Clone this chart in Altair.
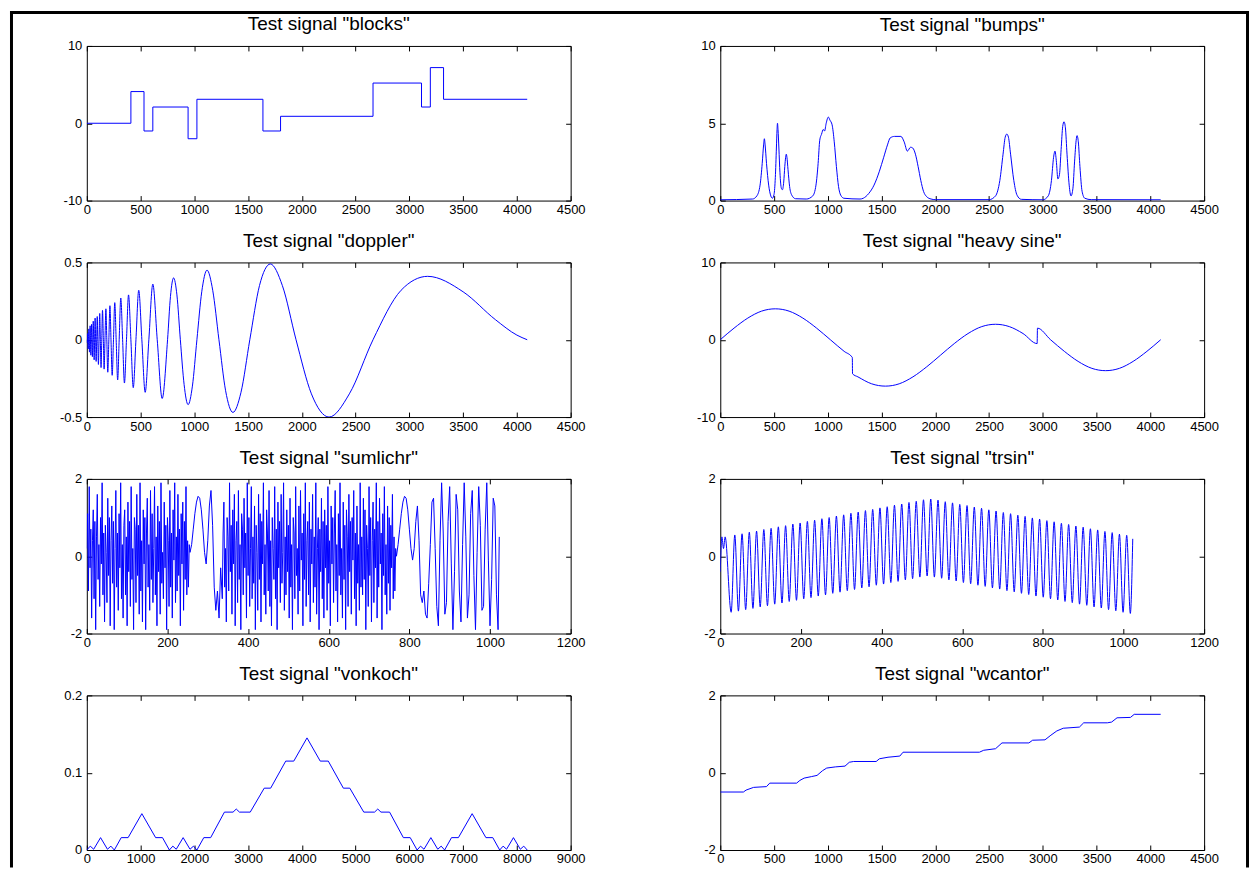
import altair as alt
import pandas as pd

# ---------------- data ----------------
blocks_x = [0, 410, 532, 614, 942, 1024, 1638, 1802, 2662, 3113, 3195, 3318, 4096]
blocks_y = [0, 4.1, -1.0, 2.1, -2.0, 3.1, -1.0, 0.9, 5.2, 2.1, 7.2, 3.1, 3.1]

bumps_pts = [(0, 0.05), (300, 0.1), (340, 0.3), (370, 1.0), (390, 2.4), (403, 3.6), (410, 4.0),
             (417, 3.6), (430, 2.4), (450, 1.0), (470, 0.3), (485, 0.15), (500, 0.4), (512, 1.5),
             (522, 3.4), (528, 4.6), (532, 5.0), (537, 4.6), (545, 3.4), (555, 1.8), (568, 0.8),
             (578, 0.7), (590, 1.2), (600, 2.2), (608, 2.8), (614, 3.0), (620, 2.8), (630, 2.0),
             (645, 0.9), (665, 0.35), (700, 0.12), (800, 0.1), (860, 0.3), (890, 1.0), (910, 2.4),
             (925, 3.9), (942, 4.3), (958, 4.6), (970, 4.5), (985, 5.0), (1005, 5.4), (1020, 5.2),
             (1040, 4.9), (1060, 3.8), (1080, 2.2), (1100, 0.9), (1120, 0.35), (1150, 0.15),
             (1300, 0.1), (1330, 0.15), (1380, 0.45), (1430, 1.0), (1480, 1.9), (1520, 2.8),
             (1555, 3.6), (1580, 4.05), (1620, 4.15), (1680, 4.15), (1710, 3.8), (1740, 3.2),
             (1770, 3.45), (1790, 3.4), (1815, 3.0), (1840, 2.2), (1865, 1.3), (1890, 0.6),
             (1920, 0.25), (1960, 0.1), (2000, 0.06), (2500, 0.06), (2560, 0.3), (2600, 1.3),
             (2630, 3.0), (2650, 4.1), (2665, 4.3), (2680, 4.1), (2700, 3.0), (2730, 1.3),
             (2760, 0.35), (2800, 0.08), (3000, 0.05), (3050, 0.3), (3080, 1.3), (3100, 2.8),
             (3113, 3.2), (3125, 2.6), (3140, 1.4), (3155, 1.7), (3170, 3.3), (3185, 4.8),
             (3197, 5.1), (3210, 4.7), (3225, 3.0), (3245, 1.0), (3262, 0.3), (3280, 0.8),
             (3295, 2.5), (3310, 3.9), (3318, 4.2), (3330, 3.8), (3345, 2.2), (3365, 0.6),
             (3390, 0.15), (3450, 0.06), (4096, 0.05)]

doppler_x = [0, 2.5, 5, 7.6, 10.2, 12.9, 15.8, 18.6, 21.6, 24.6, 27.7, 30.8, 34.1, 37.5, 41, 44.5,
             48.2, 52, 55.9, 59.9, 64, 68.3, 72.7, 77.2, 82, 86.8, 92, 97, 102, 108, 114, 120, 126,
             132.5, 139, 146, 154, 161, 169, 177.5, 186, 195, 205, 215, 225, 236, 248, 260, 273,
             287, 301, 316, 333, 350, 369, 388, 410, 432, 457, 483, 512, 543, 577, 614, 655, 701,
             751, 778, 807, 838, 870, 905, 942, 982, 1024, 1069, 1118, 1171, 1229, 1291, 1359,
             1434, 1516, 1606, 1707, 1819, 1946, 2089, 2253, 2442, 2662, 2923, 3170, 3500, 3800,
             4000, 4096]
doppler_y = [0, -0.02, 0, 0.04, 0, -0.06, 0, 0.07, 0, -0.08, 0, 0.09, 0, -0.10, 0, 0.10, 0, -0.11,
             0, 0.12, 0, -0.13, 0, 0.14, 0, -0.14, 0, 0.15, 0, -0.16, 0, 0.17, 0, -0.18, 0, 0.19,
             0, -0.19, 0, 0.20, 0, -0.21, 0, 0.22, 0, -0.23, 0, 0.24, 0, -0.26, 0, 0.27, 0, -0.28,
             0, 0.29, 0, -0.31, 0, 0.32, 0, -0.34, 0, 0.36, 0, -0.38, 0, 0.28, 0.40, 0.29, 0,
             -0.29, -0.42, -0.30, 0, 0.31, 0.45, 0.32, 0, -0.33, -0.47, -0.34, 0, 0.35, 0.49, 0.35,
             0, -0.35, -0.50, -0.35, 0, 0.32, 0.41, 0.31, 0.13, 0.03, 0]

heavy_x = [0, 128, 256, 384, 512, 640, 768, 896, 1024, 1152, 1228, 1230, 1280, 1408, 1536, 1664,
           1792, 1920, 2048, 2176, 2304, 2432, 2560, 2688, 2816, 2947, 2950, 3072, 3200, 3328,
           3456, 3584, 3712, 3840, 3968, 4096]
heavy_y = [0, 1.5, 2.8, 3.7, 4.0, 3.7, 2.8, 1.5, 0, -1.5, -2.3, -4.4, -4.8, -5.7, -6.0, -5.7, -4.8,
           -3.5, -2.0, -0.5, 0.8, 1.7, 2.0, 1.7, 0.8, -0.5, 1.5, 0, -1.5, -2.8, -3.7, -4.0, -3.7,
           -2.8, -1.5, 0]

# sumlichr: five stretches of samples, (first index, index step, values)
sum_r1 = [0.2, 1.1, -0.9, 1.8, -0.3, 0.7, -1.6, 0.4, 1.2, -1.1, 0.9, -1.9, 0.5, 1.6, -0.6, 0.3,
          -1.3, 1.0, -0.2, 1.9, -1.0, 0.6, -1.7, 0.8, 0.1, -1.2, 1.5, -0.5, 1.0, -1.8, 0.4, 1.3,
          -0.7, 0.9, -1.9, 0.2, 1.7, -0.8, 0.6, -1.4, 1.1, -0.3, 1.9, -1.1, 0.3, -1.6, 0.8, 1.2,
          -1.0, 0.5, -1.8, 1.4, -0.4, 0.9, -1.3, 1.8, -0.6, 0.2, -1.9, 1.0, 0.7, -1.2, 1.6, -0.5,
          0.8, -1.5, 1.9, -0.9, 0.4, -1.7, 1.2, -0.2, 1.0, -1.9, 0.6, 1.5, -0.8, 0.3, -1.4, 1.7,
          -0.6, 1.1, -1.2, 0.2, 1.8, -1.0, 0.5, -1.8, 1.3, -0.4, 0.9, -1.5, 1.9, -0.7, 0.1, -1.1,
          1.4, -0.3, 0.8, -1.9, 1.0, 0.4, -1.3, 1.7, -0.8, 0.6, -1.6, 1.2, -0.1, 1.9, -1.2, 0.5,
          -0.9, 1.6, -0.5, 0.7, -1.8, 1.1, -0.2, 1.4, -1.4, 0.9, -0.6, 1.8, -1.0, 0.4, -0.8, 0.3]
sum_r2 = [0.1, 0.3, 0.7, 1.1, 1.4, 1.55, 1.5, 1.2, 0.7, 0.1, -0.2, 0.4, 1.3, 1.7, 0.8, -0.8,
          -1.4, -0.9, -1.6, -0.3]
sum_r3 = [-1.1, 0.6, 1.4, -0.8, 0.2, -1.7, 1.0, 0.5, -0.9, 1.9, -0.4, 0.8, -1.5, 1.2, -0.2, 1.6,
          -1.8, 0.4, 0.9, -1.2, 1.7, -0.6, 0.3, -1.9, 1.1, 0.7, -1.0, 1.5, -0.3, 0.6, -1.6, 1.9,
          -0.5, 1.0, -1.3, 0.2, 1.8, -1.1, 0.5, -0.7, 1.3, -1.9, 0.8, 0.1, -1.4, 1.6, -0.6, 1.1,
          -1.7, 0.9, -0.2, 1.9, -1.0, 0.3, -1.5, 1.2, 0.6, -0.9, 1.7, -1.3, 0.4, -1.8, 1.0, 0.2,
          -0.6, 1.8, -1.1, 0.7, -1.9, 1.4, -0.3, 0.9, -1.2, 1.6, -0.7, 0.1, 1.9, -1.4, 0.5, -1.0,
          1.2, -0.4, 0.8, -1.6, 1.5, -0.8, 0.3, -1.9, 1.0, 0.6, -1.1, 1.8, -0.5, 0.2, -1.5, 1.3,
          -0.9, 1.7, -0.1, 0.6, -1.8, 1.1, -0.6, 1.9, -1.3, 0.4, 0.9, -1.0, 1.4, -1.7, 0.7, -0.2,
          1.6, -1.2, 0.5, -0.8, 1.9, -1.5, 0.2, 1.0, -1.9, 0.7, -0.4, 1.5, -1.1, 0.9, -1.6, 1.2,
          -0.3, 0.8, -1.4, 1.8, -0.7, 0.4, -1.8, 1.3, -0.2, 1.0, -1.2, 0.6, 1.7, -0.9, 0.3, -1.7,
          1.1, -0.5, 1.9, -1.0, 0.2, -1.6, 1.4, -0.6, 0.8, -1.9, 1.2, 0.5, -1.3, 1.6, -0.4, 0.9,
          -1.5, 1.0, -0.1, 1.7, -1.1, 0.6, -1.8, 1.3, -0.7, 0.3, -1.4, 1.9, -0.8, 0.5, -1.0, 1.5,
          -0.6, 1.2, -1.9, 0.8, 0.2, -1.3, 1.8, -0.5, 1.0, -1.7, 0.4, 1.4, -1.2, 0.7, -0.3, 1.9,
          -1.6, 0.9, -0.8, 1.5, -0.2, 0.6, -1.9, 1.1, -0.5, 1.8, -1.0, 0.3, -1.5, 1.3, -0.7, 1.0,
          -1.4, 0.8, -0.3, 1.6, -1.1, 0.5, -0.9, 0.2]
sum_r4 = [0.0, 0.3, 0.7, 1.1, 1.4, 1.55, 1.5, 1.2, 0.7, 0.2, -0.1, 0.2, 0.9, 1.3, 0.4, -1.0,
          -1.2, -0.9, -1.5, -1.6, -0.7, 0.3, 1.4]
sum_r5 = [1.5, 0.2, -1.3, -1.8, 0.4, 1.9, 0.6, -1.5, -1.2, 0.9, 1.8, -0.2, -1.9, -0.4, 1.6, 1.2,
          -0.9, -1.7, 0.3, 1.9, 0.5, -1.6, -1.0, 1.1, 1.7, -0.5, -1.9, 0.1, 1.8, 0.8, -1.4, -1.3,
          0.7, 1.9, -0.1, -1.8, -0.6, 1.5, 1.3, -1.0, -1.9]
sum_stretches = [(0, 2, sum_r1), (256, 4, sum_r2), (336, 2, sum_r3), (768, 4, sum_r4), (860, 4, sum_r5)]
sum_last = (1023, 0.5)

# trsin: first samples, then alternating trough / peak every 9 samples from 27 to 1017
trsin_head_x = [0, 4, 8, 12]
trsin_head_y = [-0.4, 0.5, 0.2, 0.5]
trsin_step_start, trsin_step = 27, 9
trsin_y = [-1.45, 0.55, -1.42, 0.58, -1.38, 0.62, -1.35, 0.65, -1.31, 0.69, -1.28, 0.72, -1.24,
           0.76, -1.21, 0.79, -1.17, 0.83, -1.14, 0.86, -1.10, 0.90, -1.07, 0.93, -1.03, 0.97,
           -1.00, 1.00, -0.96, 1.04, -0.93, 1.07, -0.89, 1.11, -0.86, 1.14, -0.82, 1.18, -0.79,
           1.21, -0.75, 1.25, -0.72, 1.28, -0.68, 1.32, -0.65, 1.35, -0.61, 1.39, -0.58, 1.42,
           -0.54, 1.46, -0.51, 1.48, -0.54, 1.45, -0.57, 1.41, -0.61, 1.38, -0.64, 1.34, -0.68,
           1.31, -0.71, 1.27, -0.75, 1.24, -0.78, 1.20, -0.82, 1.17, -0.85, 1.13, -0.89, 1.10,
           -0.92, 1.06, -0.96, 1.03, -0.99, 0.99, -1.03, 0.96, -1.06, 0.92, -1.10, 0.89, -1.13,
           0.85, -1.17, 0.82, -1.20, 0.78, -1.24, 0.75, -1.27, 0.71, -1.31, 0.68, -1.34, 0.64,
           -1.38, 0.61, -1.41, 0.57, -1.45, 0.54, -1.48]
trsin_last = (1023, 0.45)

vonkoch_x = [0, 64, 128, 256, 384, 448, 512, 640, 768, 1024, 1280, 1408, 1536, 1600, 1664, 1792,
             1920, 1984, 2048, 2176, 2304, 2560, 2720, 2780, 2840, 3040, 3300, 3420, 3700, 3850,
             4096, 4342, 4492, 4772, 4892, 5152, 5352, 5412, 5472, 5632, 5888, 6016, 6144, 6208,
             6272, 6400, 6528, 6592, 6656, 6784, 6912, 7168, 7424, 7552, 7680, 7744, 7808, 7936,
             8064, 8128, 8192]
vonkoch_y = [0, 0.005, 0.001, 0.016, 0.001, 0.005, 0, 0.016, 0.016, 0.047, 0.016, 0.016, 0, 0.005,
             0.001, 0.016, 0.001, 0.005, 0, 0.016, 0.016, 0.049, 0.049, 0.053, 0.049, 0.049, 0.08,
             0.08, 0.115, 0.115, 0.145, 0.115, 0.115, 0.08, 0.08, 0.049, 0.049, 0.053, 0.049,
             0.049, 0.016, 0.016, 0, 0.005, 0.001, 0.016, 0.001, 0.005, 0, 0.016, 0.016, 0.047,
             0.016, 0.016, 0, 0.005, 0.001, 0.016, 0.001, 0.005, 0]

wcantor_x = [0, 215, 240, 310, 430, 460, 710, 740, 780, 850, 900, 950, 990, 1070, 1160, 1200, 1240,
             1450, 1480, 1560, 1670, 1700, 2410, 2450, 2560, 2620, 2870, 2905, 3020, 3075, 3130,
             3190, 3340, 3380, 3600, 3640, 3690, 3815, 3850, 4096]
wcantor_y = [-0.5, -0.5, -0.45, -0.38, -0.36, -0.27, -0.27, -0.2, -0.14, -0.1, -0.07, 0.05, 0.12,
             0.15, 0.17, 0.27, 0.29, 0.29, 0.36, 0.4, 0.43, 0.53, 0.53, 0.58, 0.62, 0.77, 0.77, 0.84,
             0.85, 0.97, 1.08, 1.15, 1.18, 1.29, 1.29, 1.31, 1.42, 1.43, 1.51, 1.51]

# axis ticks
ticks_4500 = [0, 500, 1000, 1500, 2000, 2500, 3000, 3500, 4000, 4500]
ticks_1200 = [0, 200, 400, 600, 800, 1000, 1200]
ticks_9000 = [0, 1000, 2000, 3000, 4000, 5000, 6000, 7000, 8000, 9000]

titles = ['Test signal "blocks"', 'Test signal "bumps"', 'Test signal "doppler"',
          'Test signal "heavy sine"', 'Test signal "sumlichr"', 'Test signal "trsin"',
          'Test signal "vonkoch"', 'Test signal "wcantor"']

# ---------------- build tables ----------------
bumps_x = [p[0] for p in bumps_pts]
bumps_y = [p[1] for p in bumps_pts]

sum_x, sum_y = [], []
for start, step, vals in sum_stretches:
    for i, v in enumerate(vals):
        sum_x.append(start + step * i)
        sum_y.append(v)
sum_x.append(sum_last[0])
sum_y.append(sum_last[1])

trsin_x = list(trsin_head_x) + [trsin_step_start + trsin_step * i for i in range(len(trsin_y))] + [trsin_last[0]]
trsin_all_y = list(trsin_head_y) + list(trsin_y) + [trsin_last[1]]

# ---------------- styling ----------------
FONT = '"Liberation Sans Narrow", "Arial Narrow", "Liberation Sans", Arial, sans-serif'
W, H = 485, 155
BLUE = "#0000ff"
LABEL_SIZE = 13
TITLE_SIZE = 19


def make_axis(orient, values, labels):
    return alt.Axis(orient=orient, values=values, labels=labels, title=None, domain=False,
                    grid=False, ticks=True, tickSize=5, tickColor="black", tickWidth=1,
                    offset=-5, labelFont=FONT, labelFontSize=LABEL_SIZE, labelColor="black",
                    labelPadding=(3 if orient in ("bottom", "top") else 5),
                    labelFlush=False, labelOverlap=False, labelExpr="'' + datum.value")


def panel(xs, ys, title, xdom, xticks, ydom, yticks, interp="linear", extra=None, title_offset=5):
    df = pd.DataFrame({"x": xs, "y": ys})
    xsc = alt.Scale(domain=xdom, nice=False, zero=False)
    ysc = alt.Scale(domain=ydom, nice=False, zero=False)
    base = alt.Chart(df)
    line = base.mark_line(color=BLUE, strokeWidth=1, interpolate=interp, clip=True).encode(
        x=alt.X("x:Q", scale=xsc, axis=make_axis("bottom", xticks, True)),
        y=alt.Y("y:Q", scale=ysc, axis=make_axis("left", yticks, True)),
    )
    ghost = base.mark_line(opacity=0).encode(
        x=alt.X("x:Q", scale=xsc, axis=make_axis("top", xticks, False)),
        y=alt.Y("y:Q", scale=ysc, axis=make_axis("right", yticks, False)),
    )
    layers = [line, ghost]
    if extra is not None:
        layers += extra
    return alt.layer(*layers).resolve_axis(x="independent", y="independent").properties(
        width=W, height=H,
        title=alt.TitleParams(title, font=FONT, fontSize=TITLE_SIZE, fontWeight="normal",
                              color="black", anchor="middle", offset=title_offset),
    )


# figure frame (black border of the screenshot), drawn relative to the first panel
FRAME_TOP = -33.5
frame_df = pd.DataFrame({"k": [0]})
fb = alt.Chart(frame_df)
frame = [
    fb.mark_rule(color="black", strokeWidth=3, strokeCap="square").encode(
        x=alt.value(-75.5), y=alt.value(FRAME_TOP), y2=alt.value(822)),
    fb.mark_rule(color="black", strokeWidth=3, strokeCap="square").encode(
        x=alt.value(-75.5), x2=alt.value(1163.5), y=alt.value(FRAME_TOP)),
    fb.mark_rule(color="black", strokeWidth=3, strokeCap="square").encode(
        x=alt.value(1163.5), y=alt.value(FRAME_TOP), y2=alt.value(822)),
]

p1 = panel(blocks_x, blocks_y, titles[0], [0, 4500], ticks_4500, [-10, 10], [-10, 0, 10],
           interp="step-after", extra=frame, title_offset=-23.5)
p2 = panel(bumps_x, bumps_y, titles[1], [0, 4500], ticks_4500, [0, 10], [0, 5, 10], interp="monotone")
p3 = panel(doppler_x, doppler_y, titles[2], [0, 4500], ticks_4500, [-0.5, 0.5], [-0.5, 0, 0.5],
           interp="monotone")
p4 = panel(heavy_x, heavy_y, titles[3], [0, 4500], ticks_4500, [-10, 10], [-10, 0, 10],
           interp="monotone")
p5 = panel(sum_x, sum_y, titles[4], [0, 1200], ticks_1200, [-2, 2], [-2, 0, 2])
p6 = panel(trsin_x, trsin_all_y, titles[5], [0, 1200], ticks_1200, [-2, 2], [-2, 0, 2],
           interp="monotone")
p7 = panel(vonkoch_x, vonkoch_y, titles[6], [0, 9000], ticks_9000, [0, 0.2], [0, 0.1, 0.2])
p8 = panel(wcantor_x, wcantor_y, titles[7], [0, 4500], ticks_4500, [-2, 2], [-2, 0, 2])

chart = alt.concat(p1, p2, p3, p4, p5, p6, p7, p8, columns=2,
                   spacing={"row": 62, "column": 150}, bounds="flush").properties(
    padding=0, background="white"
).configure_view(stroke="black", strokeWidth=1)

chart.save("out.html", embed_options={"renderer": "svg", "actions": False})
